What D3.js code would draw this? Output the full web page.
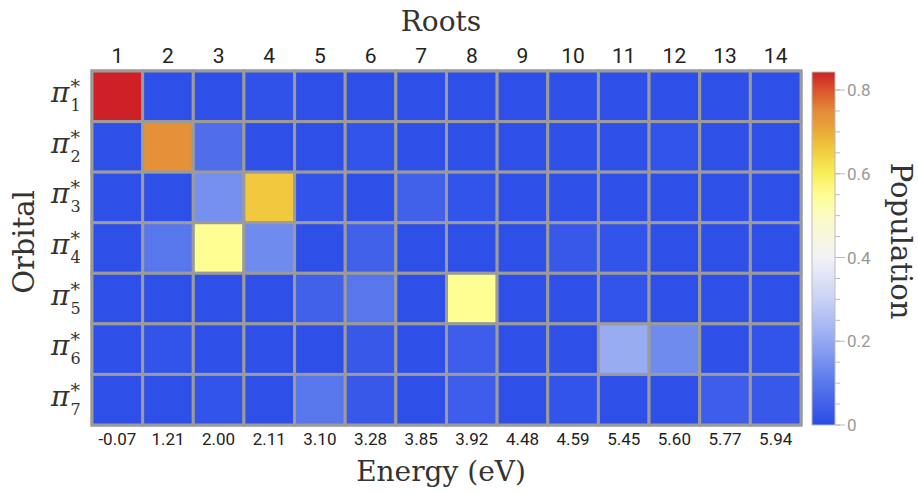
<!DOCTYPE html>
<meta charset="utf-8">
<title>Roots heatmap</title>
<style>
  body { margin: 0; background: #fff; }
  .serif { font-family: "DejaVu Serif", serif; fill: #333; }
  .sans { font-family: Roboto, "Liberation Sans", sans-serif; }
</style>
<body>
<script src="https://cdn.jsdelivr.net/npm/d3@7"></script>
<script>

var roots = ['1', '2', '3', '4', '5', '6', '7', '8', '9', '10', '11', '12', '13', '14'];
var energies = ['-0.07', '1.21', '2.00', '2.11', '3.10', '3.28', '3.85', '3.92', '4.48', '4.59', '5.45', '5.60', '5.77', '5.94'];
var orbitals = ['1', '2', '3', '4', '5', '6', '7'];

// population, one row per orbital, one value per root
var population = [
  [0.843, 0.01, 0.01, 0.015, 0.01, 0.01, 0.01, 0.01, 0.01, 0.01, 0.01, 0.01, 0.01, 0.01],
  [0.01, 0.74, 0.08, 0.01, 0.01, 0.02, 0.01, 0.01, 0.01, 0.01, 0.01, 0.02, 0.01, 0.01],
  [0.01, 0.01, 0.15, 0.66, 0.02, 0.01, 0.05, 0.02, 0.01, 0.01, 0.01, 0.01, 0.01, 0.01],
  [0.01, 0.10, 0.55, 0.14, 0.01, 0.05, 0.01, 0.01, 0.01, 0.03, 0.02, 0.01, 0.01, 0.01],
  [0.01, 0.01, 0.01, 0.01, 0.05, 0.10, 0.01, 0.55, 0.01, 0.01, 0.02, 0.01, 0.01, 0.01],
  [0.01, 0.02, 0.01, 0.01, 0.01, 0.03, 0.01, 0.04, 0.01, 0.01, 0.21, 0.14, 0.01, 0.02],
  [0.01, 0.01, 0.02, 0.01, 0.10, 0.03, 0.01, 0.04, 0.01, 0.02, 0.01, 0.01, 0.04, 0.03]
];

var colorStops = [0, 0.1, 0.2, 0.3, 0.4, 0.5, 0.55, 0.6, 0.65, 0.7, 0.75, 0.8, 0.843];
var colorRange = ['#2a4be9', '#5977ec', '#93a8f1', '#c9d2f5', '#f2f2f6', '#fcfbc4', '#fefe92', '#f8ee5a', '#f1d040', '#eaab38', '#e38a37', '#d9552c', '#cf2027'];
var barTicks = [0, 0.2, 0.4, 0.6, 0.8];

var W = 918, H = 493;
var svg = d3.select('body').append('svg').attr('width', W).attr('height', H);

var x = d3.scaleBand().domain(d3.range(roots.length)).range([92, 801]);
var y = d3.scaleBand().domain(d3.range(orbitals.length)).range([71, 425]);
var color = d3.scaleLinear().domain(colorStops).range(colorRange).interpolate(d3.interpolateRgb).clamp(true);

var cells = [];
population.forEach(function(row, i) {
  row.forEach(function(v, j) { cells.push({r: i, c: j, v: v}); });
});

svg.append('rect')
  .attr('x', 90.5).attr('y', 69.5).attr('width', 712).attr('height', 357)
  .attr('fill', '#9b9b9b');

svg.selectAll('rect.cell').data(cells)
  .enter().append('rect')
  .attr('class', 'cell')
  .attr('x', function(d) { return x(d.c); })
  .attr('y', function(d) { return y(d.r); })
  .attr('width', x.bandwidth())
  .attr('height', y.bandwidth())
  .attr('fill', function(d) { return color(d.v); })
  .attr('stroke', '#9b9b9b')
  .attr('stroke-width', 3);

// top labels (roots)
svg.selectAll('text.root').data(roots)
  .enter().append('text')
  .attr('class', 'sans')
  .attr('x', function(d, i) { return x(i) + x.bandwidth() / 2; })
  .attr('y', 63)
  .attr('text-anchor', 'middle')
  .attr('font-size', 21)
  .attr('fill', '#222')
  .text(function(d) { return d; });

// bottom labels (energies)
svg.selectAll('text.en').data(energies)
  .enter().append('text')
  .attr('class', 'sans')
  .attr('x', function(d, i) { return x(i) + x.bandwidth() / 2; })
  .attr('y', 445)
  .attr('text-anchor', 'middle')
  .attr('font-size', 17)
  .attr('fill', '#222')
  .text(function(d) { return d; });

// orbital labels pi*_n, one text each, sup and sub stacked by tspans
var ylab = svg.selectAll('text.orb').data(orbitals)
  .enter().append('text')
  .attr('class', 'serif')
  .attr('x', 51)
  .attr('y', function(d, i) { return y(i) + y.bandwidth() / 2 + 6; });
ylab.append('tspan').attr('font-size', 28).attr('font-style', 'italic').text('\u03c0');
ylab.append('tspan').attr('font-size', 19).attr('dy', -9).attr('dx', 1).text('*');
ylab.append('tspan').attr('font-size', 16).attr('dy', 18).attr('dx', -9.5)
  .text(function(d) { return d; });

// axis titles
svg.append('text').attr('class', 'serif')
  .attr('x', 441).attr('y', 31).attr('text-anchor', 'middle')
  .attr('font-size', 28).text('Roots');
svg.append('text').attr('class', 'serif')
  .attr('x', 441).attr('y', 481).attr('text-anchor', 'middle')
  .attr('font-size', 28).text('Energy (eV)');
svg.append('text').attr('class', 'serif')
  .attr('transform', 'translate(34,242) rotate(-90)')
  .attr('text-anchor', 'middle')
  .attr('font-size', 29).text('Orbital');
svg.append('text').attr('class', 'serif')
  .attr('transform', 'translate(891,241) rotate(90)')
  .attr('text-anchor', 'middle')
  .attr('font-size', 29).text('Population');

// colour bar
var by = d3.scaleLinear().domain([0, 0.843]).range([425, 72]);
var grad = svg.append('defs').append('linearGradient')
  .attr('id', 'cbar').attr('x1', 0).attr('y1', 1).attr('x2', 0).attr('y2', 0);
colorStops.forEach(function(s, i) {
  grad.append('stop').attr('offset', s / 0.843).attr('stop-color', colorRange[i]);
});
svg.append('rect')
  .attr('x', 812).attr('y', by(0.843)).attr('width', 23).attr('height', by(0) - by(0.843))
  .attr('fill', 'url(#cbar)').attr('stroke', '#bbb').attr('stroke-width', 1);

var minor = d3.range(0, 0.843, 0.05);
svg.selectAll('line.minor').data(minor)
  .enter().append('line')
  .attr('x1', 835).attr('x2', 840)
  .attr('y1', function(d) { return by(d); }).attr('y2', function(d) { return by(d); })
  .attr('stroke', '#bbb').attr('stroke-width', 1);
svg.selectAll('line.major').data(barTicks)
  .enter().append('line')
  .attr('x1', 835).attr('x2', 845)
  .attr('y1', function(d) { return by(d); }).attr('y2', function(d) { return by(d); })
  .attr('stroke', '#bbb').attr('stroke-width', 1);
svg.selectAll('text.bt').data(barTicks)
  .enter().append('text')
  .attr('class', 'sans')
  .attr('x', 847).attr('y', function(d) { return by(d) + 6; })
  .attr('font-size', 17).attr('fill', '#999')
  .text(function(d) { return d === 0 ? '0' : d3.format('.1f')(d); });

</script>
</body>
